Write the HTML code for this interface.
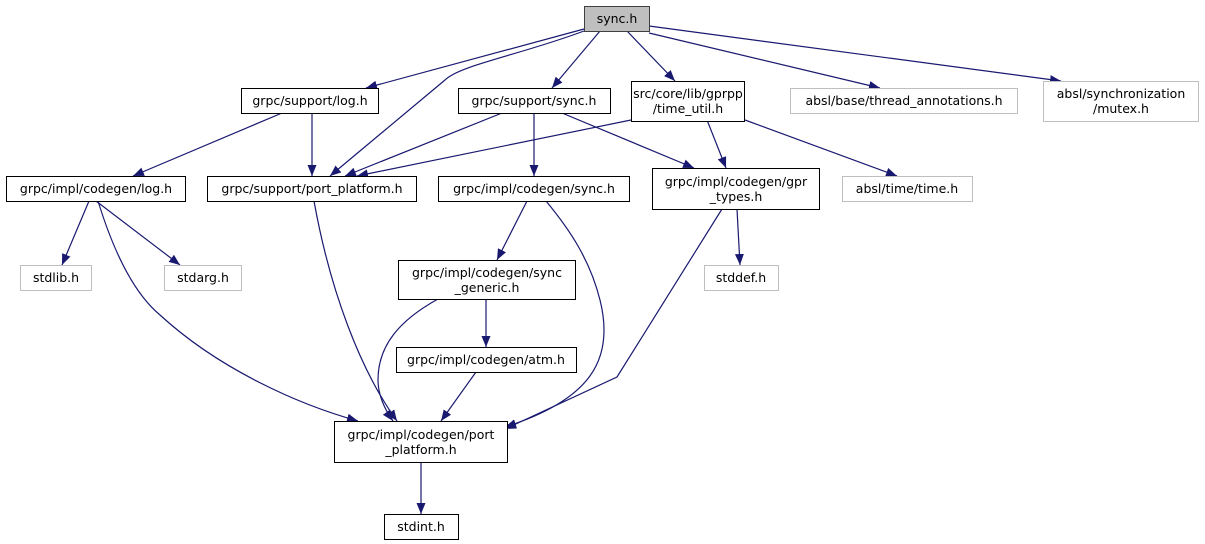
<!DOCTYPE html>
<html><head><meta charset="utf-8"><style>
html,body{margin:0;padding:0;background:#fff;}
svg{display:block;}
text{font-family:"DejaVu Sans","Liberation Sans",sans-serif;font-size:12.5px;fill:#000;}
</style></head><body>
<svg width="1205" height="544" viewBox="0 0 1205 544" xmlns="http://www.w3.org/2000/svg">
<defs>
<marker id="a" viewBox="0 0 11 9" refX="11" refY="4.5" markerWidth="11" markerHeight="9" markerUnits="userSpaceOnUse" orient="auto">
<path d="M0,0 L11,4.5 L0,9 z" fill="#191970"/>
</marker>
</defs>
<g fill="none" stroke="#191970" stroke-width="1.2" marker-end="url(#a)">
<path d="M584,29 L366,88"/>
<path d="M584,31 C520,55 460,65 445,80 L330,176"/>
<path d="M600,31 L552,88"/>
<path d="M627,31 L675,81"/>
<path d="M649,33 L880,88"/>
<path d="M649,26 L1061,81"/>
<path d="M282,113 L133,176"/>
<path d="M312,113 L312,176"/>
<path d="M502,113 L345,176"/>
<path d="M534,113 L534,176"/>
<path d="M562,113 L694,168"/>
<path d="M631,120 L357,176"/>
<path d="M707,120 L726,168"/>
<path d="M745,120 L897,176"/>
<path d="M89,201 L62,265"/>
<path d="M96,201 L180,265"/>
<path d="M98,201 C110,240 130,290 160,315 C220,370 300,405 358,421"/>
<path d="M314,201 C330,290 360,370 397,421"/>
<path d="M527,201 L497,260"/>
<path d="M546,201 C570,230 590,260 600,300 C615,360 590,400 505,427"/>
<path d="M722,209 L617,377 L505,429"/>
<path d="M737,209 L740,265"/>
<path d="M486,299 L486,347"/>
<path d="M438,299 C400,320 378,345 378,380 C378,395 385,410 393,421"/>
<path d="M476,372 L441,421"/>
<path d="M421,462 L421,514"/>
</g>
<g stroke-width="1">
<rect x="584.5" y="6.5" width="65" height="25" fill="#bfbfbf" stroke="#404040"/>
<rect x="241.5" y="88.5" width="137" height="25" fill="#fff" stroke="#000"/>
<rect x="458.5" y="88.5" width="152" height="25" fill="#fff" stroke="#000"/>
<rect x="631.5" y="81.5" width="113" height="40" fill="#fff" stroke="#000"/>
<rect x="790.5" y="88.5" width="227" height="25" fill="#fff" stroke="#bfbfbf"/>
<rect x="1043.5" y="81.5" width="155" height="40" fill="#fff" stroke="#bfbfbf"/>
<rect x="6.5" y="176.5" width="179" height="25" fill="#fff" stroke="#000"/>
<rect x="207.5" y="176.5" width="209" height="25" fill="#fff" stroke="#000"/>
<rect x="438.5" y="176.5" width="191" height="25" fill="#fff" stroke="#000"/>
<rect x="652.5" y="168.5" width="167" height="41" fill="#fff" stroke="#000"/>
<rect x="842.5" y="176.5" width="130" height="25" fill="#fff" stroke="#bfbfbf"/>
<rect x="20.5" y="265.5" width="71" height="25" fill="#fff" stroke="#bfbfbf"/>
<rect x="164.5" y="265.5" width="77" height="25" fill="#fff" stroke="#bfbfbf"/>
<rect x="704.5" y="265.5" width="74" height="25" fill="#fff" stroke="#bfbfbf"/>
<rect x="398.5" y="260.5" width="177" height="39" fill="#fff" stroke="#000"/>
<rect x="396.5" y="347.5" width="180" height="25" fill="#fff" stroke="#000"/>
<rect x="334.5" y="421.5" width="173" height="41" fill="#fff" stroke="#000"/>
<rect x="384.5" y="514.5" width="74" height="25" fill="#fff" stroke="#000"/>
</g>
<g text-anchor="middle">
<text x="617" y="23">sync.h</text>
<text x="310" y="105">grpc/support/log.h</text>
<text x="534" y="105">grpc/support/sync.h</text>
<text x="688" y="98">src/core/lib/gprpp</text>
<text x="688" y="113">/time_util.h</text>
<text x="904" y="105">absl/base/thread_annotations.h</text>
<text x="1121" y="98">absl/synchronization</text>
<text x="1121" y="113">/mutex.h</text>
<text x="96" y="193">grpc/impl/codegen/log.h</text>
<text x="312" y="193">grpc/support/port_platform.h</text>
<text x="534" y="193">grpc/impl/codegen/sync.h</text>
<text x="736" y="186">grpc/impl/codegen/gpr</text>
<text x="736" y="201">_types.h</text>
<text x="907" y="193">absl/time/time.h</text>
<text x="56" y="282">stdlib.h</text>
<text x="203" y="282">stdarg.h</text>
<text x="741" y="282">stddef.h</text>
<text x="487" y="277">grpc/impl/codegen/sync</text>
<text x="487" y="292">_generic.h</text>
<text x="486" y="364">grpc/impl/codegen/atm.h</text>
<text x="421" y="439">grpc/impl/codegen/port</text>
<text x="421" y="454">_platform.h</text>
<text x="421" y="531">stdint.h</text>
</g>
</svg>
</body></html>
